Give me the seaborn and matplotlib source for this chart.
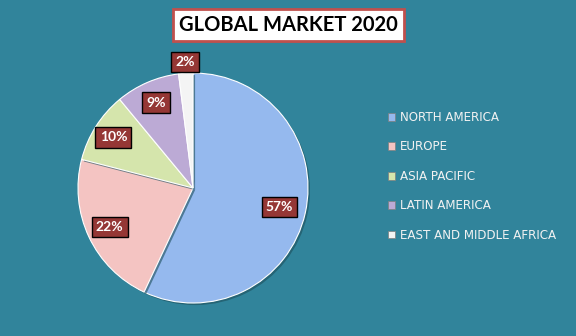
import numpy as np
import matplotlib
matplotlib.use("Agg")
import matplotlib.pyplot as plt
import matplotlib.patheffects as pe
from matplotlib.patches import Patch
import seaborn as sns

categories = ["NORTH AMERICA", "EUROPE", "ASIA PACIFIC", "LATIN AMERICA", "EAST AND MIDDLE AFRICA"]
values = [57, 22, 10, 9, 2]
colors = ["#95B9EE", "#F4C4C2", "#D5E5AC", "#BCAAD5", "#F4F4F4"]
title = "GLOBAL MARKET 2020"

sns.set_theme(style="white")
plt.rcParams["font.family"] = ["Lato", "DejaVu Sans"]

bg = "#31849B"
fig = plt.figure(figsize=(5.76, 3.36), dpi=100, facecolor=bg)
W, H = 576, 336
cx, cy, r = 193, 188, 115
ax = fig.add_axes([(cx - r) / W, (H - cy - r) / H, 2 * r / W, 2 * r / H])
ax.set_facecolor(bg)

wedges, _ = ax.pie(values, colors=colors, startangle=90, counterclock=False,
                   radius=1.0, wedgeprops=dict(edgecolor="#FFFFFF", linewidth=0.8))
for w in wedges:
    w.set_path_effects([pe.SimplePatchShadow(offset=(1.5, -1.5), shadow_rgbFace="#1d4f5c", alpha=0.6), pe.Normal()])
ax.set_xlim(-1, 1)
ax.set_ylim(-1, 1)
ax.set_aspect("equal")
ax.axis("off")

dists = [0.77, 0.8, 0.82, 0.81, 1.1]
for w, v, d in zip(wedges, values, dists):
    mid = np.deg2rad((w.theta1 + w.theta2) / 2)
    ax.text(d * np.cos(mid), d * np.sin(mid), f"{v}%", ha="center", va="center",
            color="white", fontsize=10, fontweight="bold",
            bbox=dict(boxstyle="square,pad=0.3", facecolor="#953735", edgecolor="black", linewidth=1))

fig.text(288.5 / W, 1 - 25 / H, title, ha="center", va="center", fontsize=14.5,
         fontweight="bold", color="black",
         bbox=dict(boxstyle="square,pad=0.3", facecolor="white", edgecolor="#C0504D", linewidth=2))

handles = [Patch(facecolor=c, edgecolor="#7f7f7f", linewidth=0.5) for c in colors]
leg = fig.legend(handles, categories, loc="upper left", bbox_to_anchor=(382 / W, 1 - 105 / H),
                 frameon=False, handlelength=0.6,
                 handleheight=0.6, handletextpad=0.4, labelspacing=1.38, borderpad=0,
                 prop=dict(family="DejaVu Sans", size=8.6))
for t in leg.get_texts():
    t.set_color("#F2F2F2")

fig.savefig("out.png", dpi=100, facecolor=bg)
